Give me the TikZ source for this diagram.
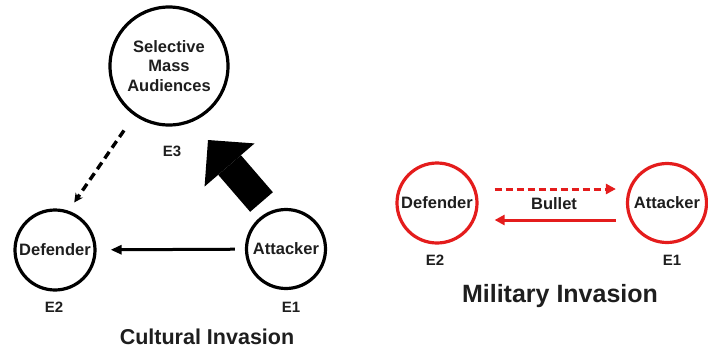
\documentclass[tikz,border=0pt]{standalone}
\usepackage{fontspec}
\setmainfont{Liberation Sans}
\usetikzlibrary{arrows.meta}
\definecolor{invred}{RGB}{228,28,28}
\definecolor{ink}{RGB}{30,30,30}

\begin{document}
\begin{tikzpicture}[x=1pt,y=-1pt,
    ent/.style={circle,draw=black,line width=3.2pt,inner sep=0pt,align=center,text=ink,font=\bfseries\fontsize{16.5}{19.5}\selectfont},
    redent/.style={ent,draw=invred},
    tag/.style={text=ink,inner sep=1pt,font=\bfseries\fontsize{15}{18}\selectfont},
    heading/.style={text=ink,inner sep=0pt}]
    \useasboundingbox (0,0) rectangle (708,349);

    \node[ent,minimum size=118pt] (sel) at (169,66) {Selective\\Mass\\Audiences};
    \node[ent,minimum size=80pt] (def) at (55,250) {Defender};
    \node[ent,minimum size=79pt] (att) at (286,249) {Attacker};
    \node[tag] (e3) at (172,151) {E3};
    \node[tag] (e2) at (54,307) {E2};
    \node[tag] (e1) at (291,307) {E1};
    \node[heading,font=\bfseries\fontsize{21.5}{24}\selectfont] (cult) at (207,337) {Cultural Invasion};

    \draw[line width=3pt,-{Triangle[length=11pt,width=9pt]},shorten <=10pt,shorten >=14pt] (att) -- (def);
    \draw[line width=3.4pt,dash pattern=on 8pt off 5pt,-{Stealth[length=9pt,width=9pt]},shorten <=18pt,shorten >=10pt] (sel.-125) -- (def.71);

    \coordinate (bigtail) at (261.5,202);
    \coordinate (bigtip) at (208,140);
    \draw[line width=30pt,-{Triangle[length=33pt,width=66pt,line width=0pt]}] (bigtail) -- (bigtip);

    \node[redent,minimum size=80pt] (rdef) at (437,203) {Defender};
    \node[redent,minimum size=79pt] (ratt) at (667,203) {Attacker};
    \node[tag] (re2) at (435,260) {E2};
    \node[tag] (re1) at (672,260) {E1};
    \node[heading,font=\bfseries\fontsize{16.5}{19}\selectfont] (bul) at (554,204) {Bullet};
    \node[heading,font=\bfseries\fontsize{25}{28}\selectfont] (mil) at (560,296) {Military Invasion};

    \draw[invred,line width=3pt,dash pattern=on 7pt off 4pt,-{Triangle[length=10pt,width=10pt]},shorten <=16pt,shorten >=10pt] ([yshift=14pt]rdef.east) -- ([yshift=14pt]ratt.west);
    \draw[invred,line width=3pt,-{Triangle[length=10pt,width=10pt]},shorten <=10pt,shorten >=16pt] ([yshift=-17pt]ratt.west) -- ([yshift=-17pt]rdef.east);
\end{tikzpicture}
\end{document}
